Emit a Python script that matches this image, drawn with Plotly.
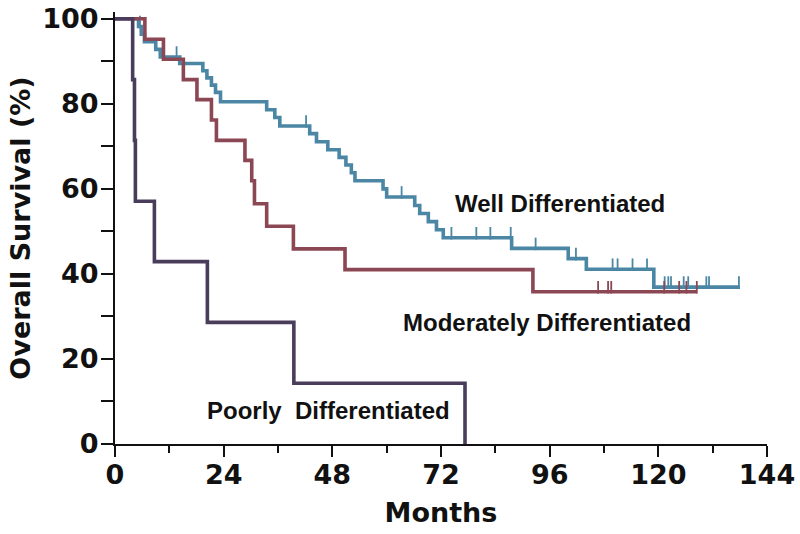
import plotly.graph_objects as go

# ---------------- data ----------------
# Well differentiated: event times (months) and survival (%) after each drop
well_times = [5.2, 5.8, 6.5, 9.0, 10.0, 14.3, 19.4, 20.3, 21.3, 22.2, 23.3,
              33.5, 35.3, 36.4, 43.0, 44.5, 47.0, 49.5, 51.0, 52.2, 53.0,
              59.2, 60.0, 66.2, 67.3, 69.2, 71.0, 72.5, 87.6, 100.1, 104.1, 119.0]
well_surv = [98.2, 96.4, 94.6, 92.8, 91.0, 89.5, 87.8, 86.1, 84.4, 82.7, 80.5,
             78.6, 76.8, 74.8, 73.0, 71.1, 69.2, 67.4, 65.6, 63.8, 61.9,
             60.0, 58.1, 56.1, 54.2, 52.3, 50.4, 48.5, 46.0, 43.6, 41.1, 36.9]
well_end = 138.0
well_censor = [5.5, 13.6, 42.2, 63.3, 74.3, 79.8, 82.9, 87.4, 92.9, 101.8,
               109.9, 111.0, 114.3, 117.5, 121.4, 122.2, 122.8, 125.6, 126.6,
               130.6, 131.2, 137.8]

# Moderately differentiated
mod_times = [6.6, 10.7, 15.1, 18.1, 21.3, 22.4, 28.7, 30.2, 30.8, 33.5,
             39.4, 50.8, 92.3]
mod_surv = [95.2, 90.5, 85.7, 81.0, 76.2, 71.4, 66.7, 61.9, 56.5, 51.2,
            45.9, 41.0, 35.8]
mod_end = 128.5
mod_censor = [106.7, 108.9, 109.6, 121.3, 124.6, 126.2, 128.5]

# Poorly differentiated
poor_times = [3.9, 4.3, 4.5, 8.7, 20.4, 39.5, 77.3]
poor_surv = [85.7, 71.4, 57.1, 42.9, 28.6, 14.3, 0.0]
poor_end = 77.3

x_ticks = [0, 24, 48, 72, 96, 120, 144]
y_ticks = [0, 20, 40, 60, 80, 100]

# ---------------- styling ----------------
C_WELL = "#4b87a5"
C_MOD = "#8b4753"
C_POOR = "#4a3d5c"
AX_FONT = "DejaVu Sans, Verdana, sans-serif"
ANN_FONT = "Liberation Sans, Arial, sans-serif"
INK = "#111111"

W, H = 800, 534
M_L, M_R, M_T, M_B = 115, 33, 12, 90
Y_MAX = 101.6
px_per_unit = (H - M_T - M_B) / Y_MAX
tick_up = 4.5 / px_per_unit  # censor ticks rise above the line


def step_value(times, surv, t):
    v = 100.0
    for ti, si in zip(times, surv):
        if ti <= t:
            v = si
    return v


fig = go.Figure()


def add_curve(times, surv, end, color, censor=None):
    xs = [0] + list(times) + ([end] if end > times[-1] else [])
    ys = [100] + list(surv) + ([surv[-1]] if end > times[-1] else [])
    fig.add_trace(go.Scatter(x=xs, y=ys, mode="lines", line_shape="hv",
                             line=dict(color=color, width=3.6),
                             hoverinfo="skip", showlegend=False))
    if censor:
        cy = [step_value(times, surv, t) + tick_up for t in censor]
        fig.add_trace(go.Scatter(x=censor, y=cy, mode="markers",
                                 marker=dict(symbol="line-ns", size=9,
                                             line=dict(color=color, width=1.8)),
                                 hoverinfo="skip", showlegend=False))


add_curve(well_times, well_surv, well_end, C_WELL, well_censor)
add_curve(mod_times, mod_surv, mod_end, C_MOD, mod_censor)
add_curve(poor_times, poor_surv, poor_end, C_POOR)

ann_font = dict(family=ANN_FONT, size=24, color=INK, weight="bold")
fig.add_annotation(x=98.2, y=56.5, text="Well Differentiated", showarrow=False,
                   font=ann_font)
fig.add_annotation(x=95.5, y=28.5, text="Moderately Differentiated",
                   showarrow=False, font=ann_font)
fig.add_annotation(x=47.1, y=7.8, text="Poorly  Differentiated",
                   showarrow=False, font=ann_font)

axis_common = dict(showgrid=False, zeroline=False, showline=True,
                   linecolor=INK, linewidth=2, ticks="outside",
                   tickcolor=INK, tickwidth=2,
                   tickfont=dict(family=AX_FONT, size=27, color=INK,
                                 weight="bold"))

fig.update_xaxes(range=[0, 144], tickvals=x_ticks,
                 ticktext=[str(v) for v in x_ticks], ticklen=11,
                 ticklabelstandoff=-5,
                 minor=dict(dtick=12, tick0=0, ticks="outside", ticklen=7,
                            tickwidth=2, tickcolor=INK),
                 title=dict(text="Months", standoff=14,
                            font=dict(family=AX_FONT, size=27, color=INK,
                                      weight="bold")),
                 **axis_common)
fig.update_yaxes(range=[0, Y_MAX], tickvals=y_ticks,
                 ticktext=[str(v) for v in y_ticks], ticklen=12,
                 ticklabelstandoff=-3,
                 minor=dict(dtick=10, tick0=0, ticks="outside", ticklen=12,
                            tickwidth=2, tickcolor=INK),
                 title=dict(text="Overall Survival (%)", standoff=4,
                            font=dict(family=AX_FONT, size=27, color=INK,
                                      weight="bold")),
                 **axis_common)

fig.update_layout(width=W, height=H, plot_bgcolor="white", paper_bgcolor="white",
                  margin=dict(l=M_L, r=M_R, t=M_T, b=M_B, autoexpand=False),
                  showlegend=False)

# remove the browser's default 8px page margin so the figure sits at (0, 0)
fig.write_html("out.html",
               config={"displayModeBar": False},
               post_script="document.body.style.margin='0px';")
